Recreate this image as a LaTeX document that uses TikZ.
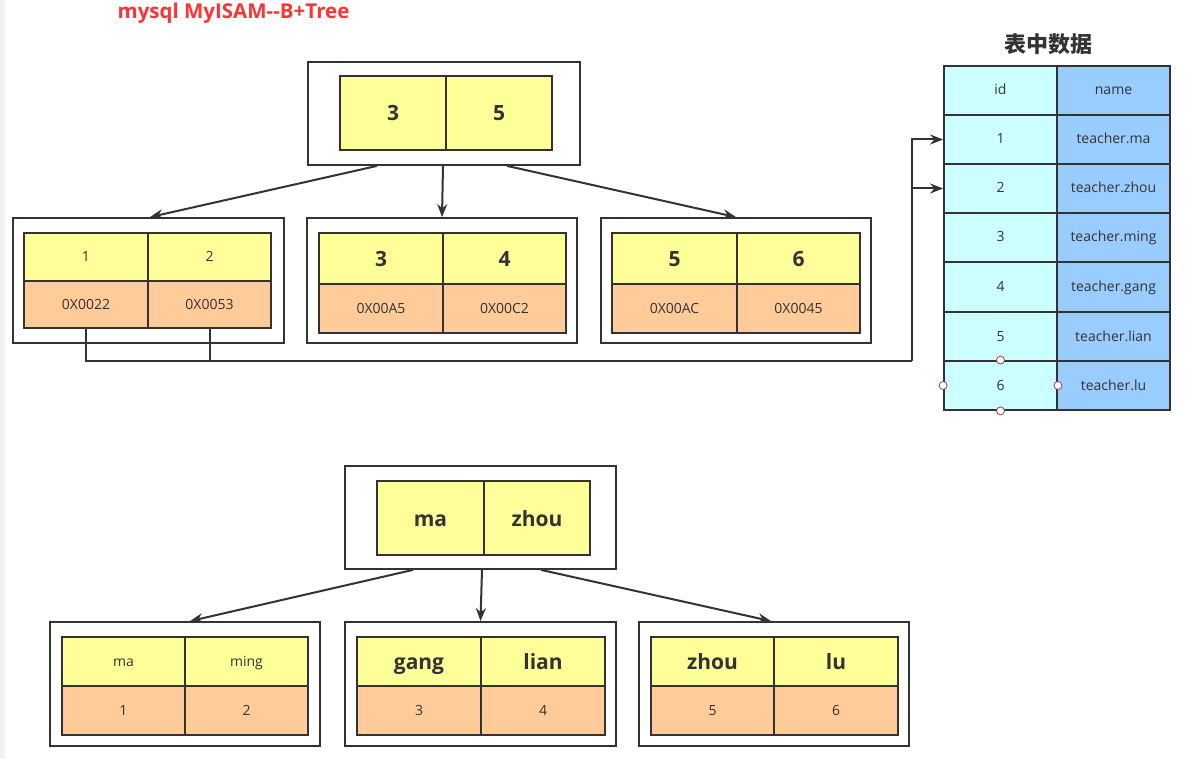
\documentclass[tikz,border=0pt]{standalone}
\usepackage{fontspec}
\setmainfont{Open Sans}
\newfontfamily\cjk{Noto Sans CJK SC}
\usetikzlibrary{arrows.meta}
\definecolor{ln}{HTML}{333333}
\definecolor{yel}{HTML}{FFFF99}
\definecolor{ora}{HTML}{FFCC99}
\definecolor{cya}{HTML}{CCFFFF}
\definecolor{blu}{HTML}{99CCFF}
\definecolor{ttl}{HTML}{FF3333}
\definecolor{hdl}{HTML}{A04040}
\tikzset{
  base/.style={draw=ln, line width=1.8pt, rectangle, inner sep=0pt, text=ln},
  outerbox/.style={base, fill=white},
  ycell/.style={base, fill=yel},
  ocell/.style={base, fill=ora},
  big/.style={font=\bfseries\fontsize{21}{25}\selectfont, text height=18pt, text depth=2pt},
  small/.style={font=\fontsize{14}{17}\selectfont, text height=11pt, text depth=2pt},
  idcell/.style={base, fill=cya, minimum width=113pt, minimum height=49pt, small},
  nmcell/.style={base, fill=blu, minimum width=113pt, minimum height=49pt, small},
  arr/.style={draw=ln, line width=2pt, -{Stealth[length=13pt,width=10pt]}},
  conn/.style={draw=ln, line width=2pt},
  handle/.style={circle, draw=hdl, fill=white, line width=0.8pt, minimum size=8pt, inner sep=0pt}
}
\begin{document}
\begin{tikzpicture}[x=1pt,y=-1pt]
\useasboundingbox (0,0) rectangle (1196,759);
\fill[white] (0,0) rectangle (1196,759);
\fill[black!5] (0,0) rectangle (5,759);

\node[text=ttl, font=\bfseries\fontsize{20.5}{24}\selectfont] (title) at (233.5,13) {mysql MyISAM-{}-B+Tree};

% ---- tree 1 root
\node[outerbox, minimum width=272pt, minimum height=103pt] (r1o) at (444,113.5) {};
\node[ycell, big, minimum width=106pt, minimum height=74pt] (r1a) at (393,113) {3};
\node[ycell, big, minimum width=106pt, minimum height=74pt] (r1b) at (499,113) {5};

% ---- leaf A
\node[outerbox, minimum width=271pt, minimum height=125pt] (l1o) at (148.5,280.5) {};
\node[ycell, small, minimum width=124pt, minimum height=48pt] (l1y1) at (86,257) {1};
\node[ycell, small, minimum width=123pt, minimum height=48pt] (l1y2) at (209.5,257) {2};
\node[ocell, small, minimum width=124pt, minimum height=47pt] (l1o1) at (86,304.5) {0X0022};
\node[ocell, small, minimum width=123pt, minimum height=47pt] (l1o2) at (209.5,304.5) {0X0053};

% ---- leaf B
\node[outerbox, minimum width=270pt, minimum height=125pt] (l2o) at (442,280.5) {};
\node[ycell, big, minimum width=124pt, minimum height=51pt] (l2y1) at (381,258.5) {3};
\node[ycell, big, minimum width=123pt, minimum height=51pt] (l2y2) at (504.5,258.5) {4};
\node[ocell, small, minimum width=124pt, minimum height=49pt] (l2o1) at (381,308.5) {0X00A5};
\node[ocell, small, minimum width=123pt, minimum height=49pt] (l2o2) at (504.5,308.5) {0X00C2};

% ---- leaf C
\node[outerbox, minimum width=270pt, minimum height=125pt] (l3o) at (736,280.5) {};
\node[ycell, big, minimum width=125pt, minimum height=51pt] (l3y1) at (674.5,258.5) {5};
\node[ycell, big, minimum width=123pt, minimum height=51pt] (l3y2) at (798.5,258.5) {6};
\node[ocell, small, minimum width=125pt, minimum height=49pt] (l3o1) at (674.5,308.5) {0X00AC};
\node[ocell, small, minimum width=123pt, minimum height=49pt] (l3o2) at (798.5,308.5) {0X0045};

\draw[arr] ([xshift=-67pt]r1o.south) -- ([xshift=1.5pt]l1o.north);
\draw[arr] ([xshift=-1pt]r1o.south) -- (l2o.north);
\draw[arr] ([xshift=63pt]r1o.south) -- (l3o.north);

% ---- table
\node[text=ln, font=\cjk\bfseries\fontsize{22}{26}\selectfont] (ttitle) at (1048,44) {表中数据};
\node[idcell] (h1) at (1000.5,90.5) {id};
\node[nmcell] (h2) at (1113.5,90.5) {name};
\node[idcell] (t1) at (1000.5,139.5) {1};
\node[nmcell] (n1) at (1113.5,139.5) {teacher.ma};
\node[idcell] (t2) at (1000.5,188.5) {2};
\node[nmcell] (n2) at (1113.5,188.5) {teacher.zhou};
\node[idcell] (t3) at (1000.5,237.5) {3};
\node[nmcell] (n3) at (1113.5,237.5) {teacher.ming};
\node[idcell] (t4) at (1000.5,287) {4};
\node[nmcell] (n4) at (1113.5,287) {teacher.gang};
\node[idcell] (t5) at (1000.5,336.5) {5};
\node[nmcell] (n5) at (1113.5,336.5) {teacher.lian};
\node[idcell] (t6) at (1000.5,385.5) {6};
\node[nmcell] (n6) at (1113.5,385.5) {teacher.lu};
\node[handle] (hn) at (t6.north) {};
\node[handle] (hs) at (t6.south) {};
\node[handle] (hw) at (t6.west) {};
\node[handle] (he) at (t6.east) {};

% ---- pointers
\coordinate (j) at (912,361);
\draw[conn] (l1o1.south) |- (j);
\draw[conn] (l1o2.south) -- (l1o2.south |- j);
\draw[arr] (j) |- (t1.west);
\draw[arr] (j) |- (t2.west);

% ---- tree 2 root
\node[outerbox, minimum width=271pt, minimum height=103pt] (s1o) at (480.5,517.5) {};
\node[ycell, big, minimum width=107pt, minimum height=74pt] (s1a) at (430.5,518) {ma};
\node[ycell, big, minimum width=106pt, minimum height=74pt] (s1b) at (537,518) {zhou};

% ---- leaf 2A
\node[outerbox, minimum width=270pt, minimum height=124pt] (m1o) at (185,684) {};
\node[ycell, small, minimum width=123pt, minimum height=49pt] (m1y1) at (123.5,661.5) {ma};
\node[ycell, small, minimum width=123pt, minimum height=49pt] (m1y2) at (246.5,661.5) {ming};
\node[ocell, small, minimum width=123pt, minimum height=49pt] (m1o1) at (123.5,710.5) {1};
\node[ocell, small, minimum width=123pt, minimum height=49pt] (m1o2) at (246.5,710.5) {2};

% ---- leaf 2B
\node[outerbox, minimum width=271pt, minimum height=124pt] (m2o) at (480.5,684) {};
\node[ycell, big, minimum width=124pt, minimum height=49pt] (m2y1) at (419,661.5) {gang};
\node[ycell, big, minimum width=124pt, minimum height=49pt] (m2y2) at (543,661.5) {lian};
\node[ocell, small, minimum width=124pt, minimum height=49pt] (m2o1) at (419,710.5) {3};
\node[ocell, small, minimum width=124pt, minimum height=49pt] (m2o2) at (543,710.5) {4};

% ---- leaf 2C
\node[outerbox, minimum width=270pt, minimum height=124pt] (m3o) at (774,684) {};
\node[ycell, big, minimum width=123pt, minimum height=49pt] (m3y1) at (712.5,661.5) {zhou};
\node[ycell, big, minimum width=124pt, minimum height=49pt] (m3y2) at (836,661.5) {lu};
\node[ocell, small, minimum width=123pt, minimum height=49pt] (m3o1) at (712.5,710.5) {5};
\node[ocell, small, minimum width=124pt, minimum height=49pt] (m3o2) at (836,710.5) {6};

\draw[arr] ([xshift=-67.5pt]s1o.south) -- ([xshift=5pt]m1o.north);
\draw[arr] ([xshift=1.5pt]s1o.south) -- (m2o.north);
\draw[arr] ([xshift=60.5pt]s1o.south) -- ([xshift=-3pt]m3o.north);
\end{tikzpicture}
\end{document}
